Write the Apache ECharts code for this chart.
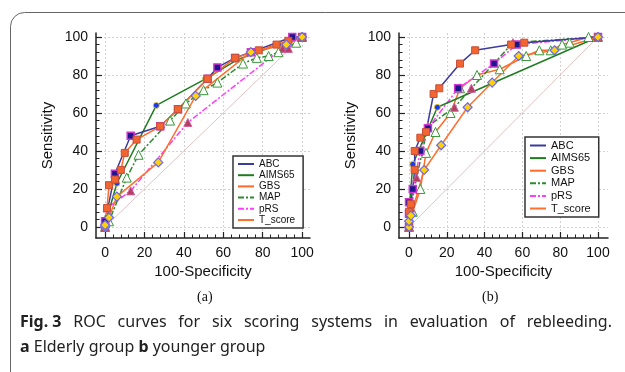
<!DOCTYPE html>
<html>
<head>
<meta charset="utf-8">
<script src="https://cdn.jsdelivr.net/npm/echarts@6/dist/echarts.min.js"></script>
<style>html,body{margin:0;padding:0;background:#fff}#main{width:625px;height:372px}</style>
</head>
<body>
<div id="main"></div>
<script>
// tick labels
const ticks = [0, 20, 40, 60, 80, 100];
const minorTicks = [4, 8, 12, 16, 24, 28, 32, 36, 44, 48, 52, 56, 64, 68, 72, 76, 84, 88, 92, 96];
const names = ['ABC', 'AIMS65', 'GBS', 'MAP', 'pRS', 'T_score'];
const diag = [[0, 0], [100, 100]];

// (a) Elderly group  [100-specificity, sensitivity]
const abcA = [[0,0],[0,3],[5,28],[13,48],[28,53],[37,62],[52,78],[57,84],[66,89],[74,92],[95,100],[100,100]];
const aims65A = [[0,0],[1,5],[6,23],[26,64],[51,78],[67,88],[88,96],[95,99],[100,100]];
const gbsA = [[0,0],[1,10],[2,22],[5,25],[8,30],[10,39],[16,46],[28,53],[37,62],[52,78],[66,89],[78,93],[87,96],[93,98],[100,100]];
const mapA = [[0,0],[2,3],[11,26],[17,38],[33,56],[41,65],[50,72],[57,76],[70,86],[77,89],[83,90],[88,92],[97,97],[100,100]];
const prsA = [[0,0],[1,10],[13,19],[42,55],[90,94],[93,94],[100,100]];
const tscoreA = [[0,0],[0,1],[2,5],[6,16],[27,34],[46,69],[74,92],[92,96],[100,100]];

// (b) younger group
const abcB = [[0,0],[0,8],[1,12],[3,30],[3,40],[6,47],[9,50],[13,70],[16,73],[27,86],[35,93],[54,96],[61,97],[100,100]];
const aims65B = [[0,0],[0,8],[2,33],[15,63],[100,100]];
const gbsB = [[0,0],[2,8],[6,20],[9,39],[14,50],[22,60],[27,73],[36,80],[48,83],[62,90],[69,93],[75,93],[81,96],[85,97],[95,100],[100,100]];
const mapB = [[0,0],[1,10],[4,26],[10,53],[24,63],[33,73],[55,97],[100,100]];
const prsB = [[0,0],[0,7],[0,13],[2,20],[6,40],[10,52],[26,73],[45,86],[57,96],[100,100]];
const tscoreB = [[0,0],[0,3],[1,6],[8,30],[17,43],[31,63],[44,76],[58,90],[77,93],[100,100]];

const captionHead = 'Fig. 3';
const captionWords = ['ROC', 'curves', 'for', 'six', 'scoring', 'systems', 'in', 'evaluation', 'of', 'rebleeding.'];

const font = 'Liberation Sans, Arial, sans-serif';
const capFont = '16px "Noto Sans", sans-serif';
const capBold = 'bold 16px "Noto Sans", sans-serif';

const lines = {
    ABC: {color: '#3b3ba0', width: 1.5},
    AIMS65: {color: '#1f7d1f', width: 1.5},
    GBS: {color: '#ff6a2a', width: 1.5},
    MAP: {color: '#2d8a2d', width: 1.5, type: [6, 2, 2, 2]},
    pRS: {color: '#ff3cff', width: 1.5, type: [6, 2, 2, 2]},
    T_score: {color: '#ff7030', width: 1.5}
};

// marker looks
const sqPurple = {symbol: 'rect', size: 7, fill: '#1c168c', border: '#d036d0', bw: 1.5};
const sqOrange = {symbol: 'rect', size: 7, fill: '#f26530', border: '#c4503a', bw: 1};
const circBlue = {symbol: 'circle', size: 6, fill: '#1a3cf0', border: '#f0d020', bw: 0.8};
const triOpen = {symbol: 'triangle', size: 9, fill: '#ffffff', border: '#3a9a3a', bw: 1};
const triRed = {symbol: 'triangle', size: 8, fill: '#b2405e', border: '#d060a0', bw: 1};
const diaYellow = {symbol: 'diamond', size: 9, fill: '#ffd200', border: '#6a6af0', bw: 1.2};

function mainAxis(grid, min, max, isY) {
    return {
        type: 'value', gridIndex: grid, min: min, max: max,
        position: isY ? 'left' : 'bottom',
        name: isY ? 'Sensitivity' : '100-Specificity',
        nameLocation: 'middle', nameGap: isY ? 41 : 26,
        nameMoveOverlap: false,
        nameTextStyle: {fontFamily: font, fontSize: 15, color: '#111'},
        axisLine: {show: true, onZero: false, lineStyle: {color: '#222', width: 1.5}},
        axisTick: {show: true, inside: true, length: 6, customValues: ticks, lineStyle: {color: '#222', width: 1.2}},
        axisLabel: {customValues: ticks, fontFamily: font, fontSize: 14, color: '#111', margin: 8},
        splitLine: {show: true, lineStyle: {color: '#d2d2d2', type: [2, 2]}}
    };
}

function minorAxis(grid, min, max, isY) {
    return {
        type: 'value', gridIndex: grid, min: min, max: max,
        position: isY ? 'left' : 'bottom',
        axisLine: {show: false, onZero: false},
        axisLabel: {show: false},
        splitLine: {show: false},
        axisTick: {show: true, inside: true, length: 3.5, customValues: minorTicks, lineStyle: {color: '#222', width: 1}}
    };
}

function curve(name, data, grid, mk) {
    return {
        name: name, type: 'line', data: data,
        xAxisIndex: grid * 2, yAxisIndex: grid * 2,
        symbol: mk.symbol, symbolSize: mk.size, showSymbol: true, showAllSymbol: true,
        lineStyle: lines[name],
        itemStyle: {color: mk.fill, borderColor: mk.border, borderWidth: mk.bw},
        emphasis: {disabled: true}, animation: false
    };
}

function diagonal(grid) {
    return {
        type: 'line', data: diag, xAxisIndex: grid * 2, yAxisIndex: grid * 2,
        symbol: 'none', silent: true, z: 1,
        lineStyle: {color: '#e2c4c4', width: 1}, animation: false
    };
}

function legendBox(left, top, size, gap, pad) {
    return {
        data: names, orient: 'vertical', left: left, top: top,
        itemWidth: 16, itemHeight: 10, itemGap: gap,
        padding: pad,
        backgroundColor: '#fff', borderColor: '#333', borderWidth: 1.5,
        itemStyle: {opacity: 0},
        textStyle: {fontFamily: font, fontSize: size, color: '#111'},
        selectedMode: false
    };
}

// first caption line is justified across the full width, like the journal layout
function captionLine(y) {
    const ctx = document.createElement('canvas').getContext('2d');
    ctx.font = capBold;
    const headW = ctx.measureText(captionHead).width;
    ctx.font = capFont;
    const widths = captionWords.map(w => ctx.measureText(w).width);
    const total = headW + widths.reduce((a, b) => a + b, 0);
    const gap = (612 - 20 - total) / captionWords.length;
    const out = [{type: 'text', left: 20, top: y, style: {text: captionHead, font: capBold, fill: '#222'}}];
    let x = 20 + headW + gap;
    captionWords.forEach((w, i) => {
        out.push({type: 'text', left: x, top: y, style: {text: w, font: capFont, fill: '#222'}});
        x += widths[i] + gap;
    });
    return out;
}

let chart = echarts.init(document.getElementById('main'));
let option = {
    backgroundColor: '#fff',
    animation: false,
    grid: [
        {left: 96, top: 33, width: 214, height: 205},
        {left: 399, top: 33, width: 209, height: 205}
    ],
    xAxis: [
        mainAxis(0, -4.6, 104, false), minorAxis(0, -4.6, 104, false),
        mainAxis(1, -5.3, 105.3, false), minorAxis(1, -5.3, 105.3, false)
    ],
    yAxis: [
        mainAxis(0, -5.8, 102.1, true), minorAxis(0, -5.8, 102.1, true),
        mainAxis(1, -5.8, 102.1, true), minorAxis(1, -5.8, 102.1, true)
    ],
    legend: [legendBox(233, 156, 10, 1.2, [3, 8, 3, 4]), legendBox(525, 137, 11, 1.6, [3, 8, 3, 4])],
    series: [
        diagonal(0),
        curve('pRS', prsA, 0, triRed),
        curve('MAP', mapA, 0, triOpen),
        curve('AIMS65', aims65A, 0, circBlue),
        curve('ABC', abcA, 0, sqPurple),
        curve('GBS', gbsA, 0, sqOrange),
        curve('T_score', tscoreA, 0, diaYellow),
        diagonal(1),
        curve('GBS', gbsB, 1, triOpen),
        curve('MAP', mapB, 1, triRed),
        curve('pRS', prsB, 1, sqPurple),
        curve('AIMS65', aims65B, 1, circBlue),
        curve('ABC', abcB, 1, sqOrange),
        curve('T_score', tscoreB, 1, diaYellow)
    ],
    graphic: [
        {type: 'rect', shape: {x: 10.5, y: 12.5, width: 700, height: 420, r: [14, 0, 0, 0]},
            style: {fill: 'none', stroke: '#666', lineWidth: 1}, silent: true},
        {type: 'text', left: 197, top: 290, style: {text: '(a)', font: '14px "Liberation Serif", serif', fill: '#111'}},
        {type: 'text', left: 482, top: 290, style: {text: '(b)', font: '14px "Liberation Serif", serif', fill: '#111'}},
        {type: 'text', left: 20, top: 339, style: {
            text: '{b|a} Elderly group {b|b} younger group',
            font: capFont, fill: '#222',
            rich: {b: {fontWeight: 'bold', fontFamily: 'Noto Sans', fontSize: 16, fill: '#222'}}
        }}
    ].concat(captionLine(314))
};
option && chart.setOption(option);
</script>
</body>
</html>
